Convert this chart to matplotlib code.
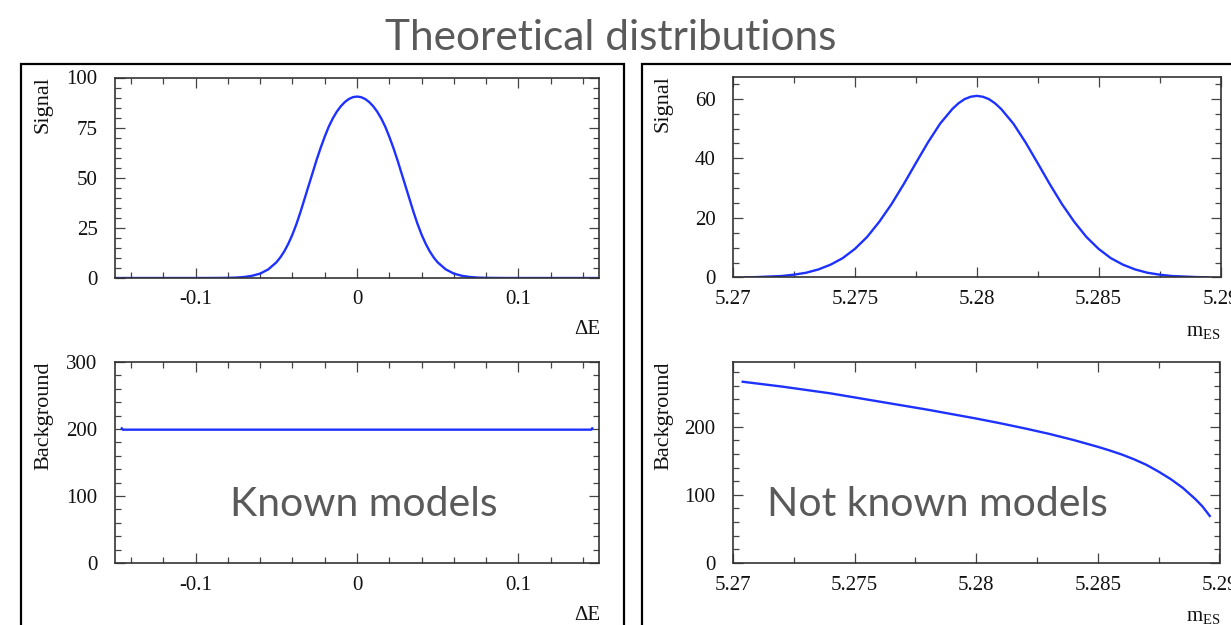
import matplotlib
matplotlib.use('Agg')
import matplotlib.pyplot as plt
from matplotlib.ticker import MultipleLocator
from matplotlib.patches import Rectangle

# values
de_x = [-0.15, -0.1, -0.09, -0.08, -0.075, -0.07, -0.065, -0.06, -0.055, -0.05,
        -0.0475, -0.045, -0.0425, -0.04, -0.0375, -0.035, -0.0325, -0.03, -0.0275,
        -0.025, -0.0225, -0.02, -0.0175, -0.015, -0.0125, -0.01, -0.0075, -0.005,
        -0.0025, 0.0, 0.0025, 0.005, 0.0075, 0.01, 0.0125, 0.015, 0.0175, 0.02,
        0.0225, 0.025, 0.0275, 0.03, 0.0325, 0.035, 0.0375, 0.04, 0.0425, 0.045,
        0.0475, 0.05, 0.055, 0.06, 0.065, 0.07, 0.075, 0.08, 0.09, 0.1, 0.15]
de_signal = [0, 0, 0.02, 0.08, 0.2, 0.5, 1.1, 2.2, 4.3, 7.8,
             10.3, 13.4, 17.2, 21.7, 27, 33, 39.5, 46, 52.5,
             59, 65, 70.5, 75.5, 79.6, 83, 85.7, 87.8, 89.3,
             90.2, 90.5, 90.2, 89.3, 87.8, 85.7, 83, 79.6, 75.5, 70.5,
             65, 59, 52.5, 46, 39.5, 33, 27, 21.7, 17.2, 13.4,
             10.3, 7.8, 4.3, 2.2, 1.1, 0.5, 0.2, 0.08, 0.02, 0, 0]

de_bkg_x = [-0.1458, -0.1452, 0.1452, 0.1458]
de_bkg = [201, 199, 199, 201]

mes_x = [5.2705, 5.271, 5.272, 5.2725, 5.273, 5.2735, 5.274, 5.2745, 5.275, 5.2755,
         5.276, 5.2765, 5.277, 5.2775, 5.278, 5.2785, 5.279, 5.27925, 5.2795, 5.27975,
         5.28, 5.28025, 5.2805, 5.28075, 5.281, 5.2815, 5.282, 5.2825, 5.283, 5.2835,
         5.284, 5.2845, 5.285, 5.2855, 5.286, 5.2865, 5.287, 5.2875, 5.288, 5.289,
         5.2895]
mes_signal = [0.04, 0.15, 0.5, 0.95, 1.6, 2.7, 4.3, 6.5, 9.6, 13.6,
              18.7, 24.6, 31.3, 38.4, 45.4, 51.7, 56.6, 58.5, 59.9, 60.7,
              61, 60.7, 59.9, 58.5, 56.6, 51.7, 45.4, 38.4, 31.3, 24.6,
              18.7, 13.6, 9.6, 6.5, 4.3, 2.7, 1.6, 0.95, 0.5, 0.15,
              0.04]

mes_bkg_x = [5.2704, 5.272, 5.274, 5.275, 5.276, 5.277, 5.278, 5.279, 5.28, 5.281,
             5.282, 5.283, 5.284, 5.285, 5.2855, 5.286, 5.2865, 5.287, 5.2875, 5.288,
             5.2885, 5.289, 5.2893, 5.2896]
mes_bkg = [266, 259, 249, 243, 237, 231, 225, 218.5, 212, 205,
           197.5, 189.5, 180.5, 170.5, 165, 159, 152, 144, 134, 123,
           110, 94, 83, 69]

de_ticks = [-0.1, 0, 0.1]
de_labels = ['-0.1', '0', '0.1']
mes_ticks = [5.27, 5.275, 5.28, 5.285, 5.29]
mes_labels = ['5.27', '5.275', '5.28', '5.285', '5.29']

W, H = 1231, 625
plt.rcParams['font.family'] = ['Liberation Serif', 'DejaVu Serif']
plt.rcParams['mathtext.fontset'] = 'custom'
plt.rcParams['mathtext.rm'] = 'Liberation Serif'

fig = plt.figure(figsize=(W / 100, H / 100), dpi=100)
fig.patch.set_facecolor('white')


def box(l, t, r, b):
    return [l / W, 1 - b / H, (r - l) / W, (b - t) / H]


def put(x, y, s, **kw):
    fig.text(x / W, 1 - y / H, s, **kw)


def root_axes(rect, xlim, ylim, xticks, xlabels, xminor, ymajor, yminor):
    ax = fig.add_axes(rect)
    ax.set_xlim(xlim)
    ax.set_ylim(ylim)
    ax.set_xticks(xticks, xlabels)
    ax.xaxis.set_minor_locator(MultipleLocator(xminor))
    ax.yaxis.set_major_locator(MultipleLocator(ymajor))
    ax.yaxis.set_minor_locator(MultipleLocator(yminor))
    ax.tick_params(which='both', direction='in', top=True, right=True,
                   color='#444444', width=0.9, labelcolor='#111111')
    ax.tick_params(which='major', length=7.5)
    ax.tick_params(which='minor', length=4.3)
    ax.tick_params(axis='x', pad=9, labelsize=15)
    ax.tick_params(axis='y', pad=12.5, labelsize=15)
    for s in ax.spines.values():
        s.set_linewidth(1.2)
        s.set_color('#333333')
    return ax


blue = '#1e32ff'

ax1 = root_axes(box(115, 77.5, 599, 278), (-0.15, 0.15), (0, 100),
                de_ticks, de_labels, 0.02, 25, 5)
ax1.plot(de_x, de_signal, color=blue, lw=1.7)

ax2 = root_axes(box(733, 76.5, 1220.5, 277.5), (5.27, 5.29), (0, 67.5),
                mes_ticks, mes_labels, 0.0025, 20, 5)
ax2.plot(mes_x, mes_signal, color=blue, lw=1.7)

ax3 = root_axes(box(115, 362, 599, 563), (-0.15, 0.15), (0, 300),
                de_ticks, de_labels, 0.02, 100, 20)
ax3.plot(de_bkg_x, de_bkg, color=blue, lw=1.7)

ax4 = root_axes(box(733, 362, 1219.5, 563), (5.27, 5.29), (0, 295),
                mes_ticks, mes_labels, 0.0025, 100, 20)
ax4.plot(mes_bkg_x, mes_bkg, color=blue, lw=1.7)

# axis titles, ROOT places them at the ends
ylab = dict(rotation=90, ha='center', va='top', fontsize=16, color='#111111')
put(43.5, 76, 'Signal', **ylab)
put(663.5, 75, 'Signal', **ylab)
put(43.5, 361, 'Background', **ylab)
put(663.5, 361, 'Background', **ylab)

xlab = dict(ha='right', va='center', fontsize=15, color='#111111')
put(600, 330, 'ΔE', **xlab)
put(600, 615, 'ΔE', **xlab)
put(1221, 332, r'$\mathrm{m}_{\mathrm{ES}}$', **xlab)
put(1221, 617.5, r'$\mathrm{m}_{\mathrm{ES}}$', **xlab)

# slide frames
fig.add_artist(Rectangle((21 / W, 1 - 700 / H), (624 - 21) / W, (700 - 64) / H,
                         transform=fig.transFigure, fill=False, lw=1.6,
                         ec='black', clip_on=False))
fig.add_artist(Rectangle((641.5 / W, 1 - 700 / H), (1400 - 641.5) / W, (700 - 64) / H,
                         transform=fig.transFigure, fill=False, lw=1.6,
                         ec='black', clip_on=False))

# slide text
gray = '#5a5a5a'
put(611, 49.5, 'Theoretical distributions', ha='center', va='baseline',
    fontsize=30.5, color=gray, family='Lato')
put(364, 516, 'Known models', ha='center', va='baseline',
    fontsize=29.5, color=gray, family='Lato')
put(937, 516, 'Not known models', ha='center', va='baseline',
    fontsize=29.5, color=gray, family='Lato')

fig.savefig('out.png', dpi=100)
